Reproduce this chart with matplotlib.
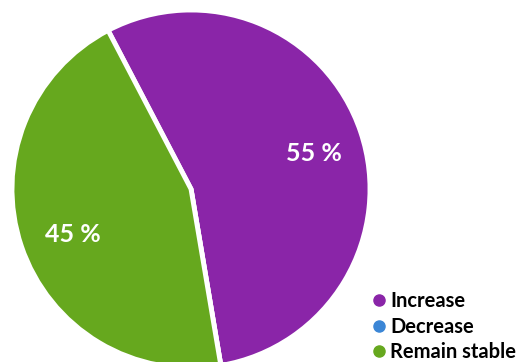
import matplotlib
matplotlib.use("Agg")
import matplotlib.pyplot as plt
import matplotlib.transforms as mtransforms
from matplotlib.lines import Line2D

categories = ["Increase", "Decrease", "Remain stable"]
values = [55, 0, 45]
colors = ["#8A25A8", "#3B86D6", "#66A81E"]

fig = plt.figure(figsize=(5.31, 3.62), dpi=100)
ax = fig.add_axes([12/531, -6/362, 358/531, 358/362])

wedges, texts, autotexts = ax.pie(
    values, colors=colors, startangle=117.6, counterclock=False,
    autopct=lambda p: f"{p:.0f} %" if p > 0.5 else "",
    pctdistance=0.71, radius=1.0,
    wedgeprops=dict(edgecolor="white", linewidth=3.5),
    textprops=dict(color="white", fontsize=18, fontweight="bold", family="Lato"),
)
shift = mtransforms.offset_copy(ax.transData, fig=fig, x=2, y=-5, units="dots")
for t in autotexts:
    t.set_transform(shift)
ax.set_xlim(-1, 1)
ax.set_ylim(-1, 1)
ax.set_aspect("equal")
ax.axis("off")

handles = [Line2D([0], [0], marker="o", linestyle="none", markersize=8,
                  markerfacecolor=c, markeredgecolor=c) for c in colors]
leg = fig.legend(handles, categories, loc="lower left",
                 bbox_to_anchor=(363/531, -0.022), frameon=False,
                 prop=dict(family="Lato", weight="bold", size=14.5),
                 handlelength=0.8, handletextpad=0.15, labelspacing=0.26,
                 borderaxespad=0)

fig.savefig("out.png", dpi=100)
